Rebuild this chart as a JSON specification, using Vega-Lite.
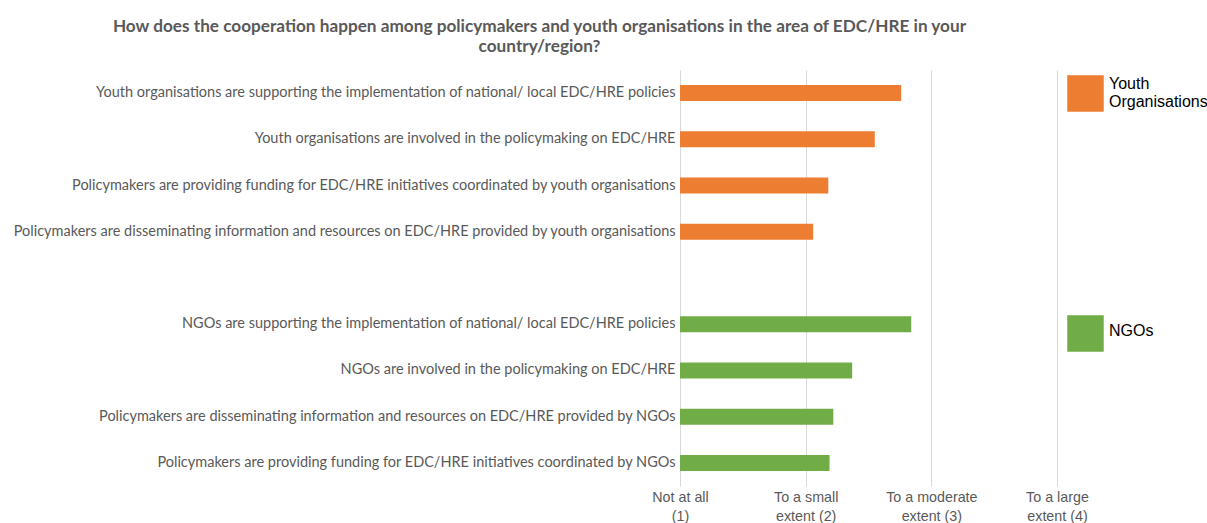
{
  "$schema": "https://vega.github.io/schema/vega-lite/v6.json",
  "autosize": {"type": "none"},
  "width": 377,
  "height": 416,
  "padding": {"left": 680, "top": 70, "right": 150, "bottom": 37},
  "background": "white",
  "title": {
    "text": ["How does the cooperation happen among policymakers and youth organisations in the area of EDC/HRE in your", "country/region?"],
    "font": "Lato",
    "fontSize": 17.2,
    "fontWeight": "bold",
    "color": "#595959",
    "anchor": "middle",
    "dx": -329,
    "offset": 15,
    "lineHeight": 20
  },
  "config": {
    "view": {"stroke": null},
    "axis": {"labelFont": "Lato", "labelColor": "#595959"}
  },
  "data": {
    "values": [
      {"group": "Youth Organisations", "label": "Youth organisations are supporting the implementation of national/ local EDC/HRE policies", "value": 2.76},
      {"group": "Youth Organisations", "label": "Youth organisations are involved in the policymaking on EDC/HRE", "value": 2.55},
      {"group": "Youth Organisations", "label": "Policymakers are providing funding for EDC/HRE initiatives coordinated by youth organisations", "value": 2.18},
      {"group": "Youth Organisations", "label": "Policymakers are disseminating information and resources on EDC/HRE provided by youth organisations", "value": 2.06},
      {"group": "NGOs", "label": "NGOs are supporting the implementation of national/ local EDC/HRE policies", "value": 2.84},
      {"group": "NGOs", "label": "NGOs are involved in the policymaking on EDC/HRE", "value": 2.37},
      {"group": "NGOs", "label": "Policymakers are disseminating information and resources on EDC/HRE provided by NGOs", "value": 2.22},
      {"group": "NGOs", "label": "Policymakers are providing funding for EDC/HRE initiatives coordinated by NGOs", "value": 2.19}
    ]
  },
  "encoding": {
    "y": {
      "field": "label",
      "type": "nominal",
      "scale": {
        "domain": [
          "Youth organisations are supporting the implementation of national/ local EDC/HRE policies",
          "Youth organisations are involved in the policymaking on EDC/HRE",
          "Policymakers are providing funding for EDC/HRE initiatives coordinated by youth organisations",
          "Policymakers are disseminating information and resources on EDC/HRE provided by youth organisations",
          " ",
          "NGOs are supporting the implementation of national/ local EDC/HRE policies",
          "NGOs are involved in the policymaking on EDC/HRE",
          "Policymakers are disseminating information and resources on EDC/HRE provided by NGOs",
          "Policymakers are providing funding for EDC/HRE initiatives coordinated by NGOs"
        ],
        "paddingInner": 0,
        "paddingOuter": 0
      },
      "axis": {
        "title": null,
        "domain": false,
        "ticks": false,
        "grid": false,
        "labelFontSize": 14.5,
        "labelPadding": 5,
        "labelLimit": 700
      }
    },
    "x": {
      "field": "value",
      "type": "quantitative",
      "scale": {"domain": [1, 4], "nice": false, "zero": false},
      "axis": {
        "title": null,
        "values": [1, 2, 3, 4],
        "domain": false,
        "ticks": false,
        "grid": true,
        "gridColor": "#d9d9d9",
        "gridWidth": 1,
        "labelFont": "Liberation Sans",
        "labelFontSize": 14.3,
        "labelColor": "#595959",
        "labelPadding": 4,
        "labelLineHeight": 19,
        "labelBaseline": "top",
        "labelAlign": "center",
        "labelFlush": false,
        "labelOverlap": false,
        "labelExpr": "datum.value == 1 ? ['Not at all', '(1)'] : datum.value == 2 ? ['To a small', 'extent (2)'] : datum.value == 3 ? ['To a moderate', 'extent (3)'] : ['To a large', 'extent (4)']"
      }
    },
    "x2": {"datum": 1}
  },
  "layer": [
    {
      "transform": [{"filter": "datum.group == 'Youth Organisations'"}],
      "mark": {"type": "bar", "size": 16},
      "encoding": {
        "color": {
          "field": "group",
          "type": "nominal",
          "scale": {"domain": ["Youth Organisations"], "range": ["#ED7D31"]},
          "legend": {
            "title": null,
            "orient": "none",
            "legendX": 387,
            "legendY": 5,
            "padding": 0,
            "symbolType": "square",
            "symbolSize": 1330,
            "symbolStrokeWidth": 0,
            "labelFont": "Liberation Sans",
            "labelFontSize": 16,
            "labelColor": "black",
            "labelOffset": 5,
            "labelLimit": 300,
            "labelExpr": "datum.label == 'Youth Organisations' ? ['Youth', 'Organisations'] : datum.label",
            "encode": {"labels": {"update": {"dy": {"value": -10}}}}
          }
        }
      }
    },
    {
      "transform": [{"filter": "datum.group == 'NGOs'"}],
      "mark": {"type": "bar", "size": 16},
      "encoding": {
        "color": {
          "field": "group",
          "type": "nominal",
          "scale": {"domain": ["NGOs"], "range": ["#70AD47"]},
          "legend": {
            "title": null,
            "orient": "none",
            "legendX": 387,
            "legendY": 245,
            "padding": 0,
            "symbolType": "square",
            "symbolSize": 1330,
            "symbolStrokeWidth": 0,
            "labelFont": "Liberation Sans",
            "labelFontSize": 16,
            "labelColor": "black",
            "labelOffset": 5,
            "labelLimit": 300,
            "encode": {"labels": {"update": {"dy": {"value": -3}}}}
          }
        }
      }
    }
  ],
  "resolve": {"scale": {"color": "independent"}, "legend": {"color": "independent"}}
}
